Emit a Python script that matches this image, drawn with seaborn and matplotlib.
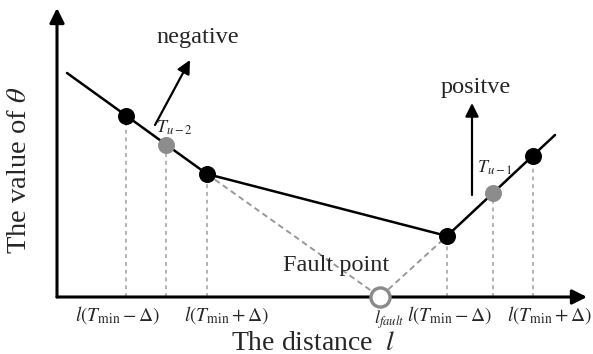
import matplotlib
matplotlib.use("Agg")
import matplotlib.pyplot as plt
import seaborn as sns
import pandas as pd

sns.set_theme(style="white")
plt.rcParams["font.family"] = ["Liberation Serif", "DejaVu Serif"]
plt.rcParams["mathtext.fontset"] = "stix"

# Sampled distances and theta values along the broken line
line_l = [0.20, 1.38, 2.18, 3.00, 7.80, 8.72, 9.52, 9.96]
line_theta = [4.48, 3.63, 3.05, 2.46, 1.22, 2.08, 2.83, 3.24]
# Marked samples (black) and the neighbouring T_{u-2}/T_{u-1} samples (gray)
black_l = [1.38, 3.00, 7.80, 9.52]
black_theta = [3.63, 2.46, 1.22, 2.83]
gray_l = [2.18, 8.72]
gray_theta = [3.05, 2.08]
gray_labels = [r"$T_{u-2}$", r"$T_{u-1}$"]
fault_l = 6.46
tick_text = [r"$l(T_{\rm min}-\Delta)$", r"$l(T_{\rm min}+\Delta)$",
             r"$l(T_{\rm min}-\Delta)$", r"$l(T_{\rm min}+\Delta)$"]

fig = plt.figure(figsize=(5.93, 3.54), dpi=100)
ax = fig.add_axes([0, 0, 1, 1])
ax.set_xlim(-1.14, 10.72)
ax.set_ylim(-1.14, 5.94)
ax.axis("off")

# Coordinate axes with arrow heads
ax.annotate("", xy=(10.6, 0), xytext=(0, 0),
            arrowprops=dict(arrowstyle="-|>", lw=2.2, color="black",
                            mutation_scale=22, shrinkA=0, shrinkB=0))
ax.annotate("", xy=(0, 5.78), xytext=(0, 0),
            arrowprops=dict(arrowstyle="-|>", lw=2.2, color="black",
                            mutation_scale=22, shrinkA=0, shrinkB=0))

# Projections of the samples onto the distance axis
all_l = sorted(black_l + gray_l)
all_theta = [dict(zip(black_l + gray_l, black_theta + gray_theta))[v] for v in all_l]
ax.vlines(all_l, 0, all_theta, colors="#b3b3b3", lw=1.4, linestyles=(0, (2, 2)), zorder=1)

# Extrapolated lines down to the fault point
ax.plot([black_l[1], fault_l, black_l[2]], [black_theta[1], 0, black_theta[2]],
        color="#999999", lw=1.4, ls=(0, (3, 2)), zorder=1)

df = pd.DataFrame({"l": line_l, "theta": line_theta})
sns.lineplot(data=df, x="l", y="theta", sort=False, color="black", lw=1.8, ax=ax, zorder=2)
sns.scatterplot(x=black_l, y=black_theta, color="black", s=150, edgecolor="black",
                linewidth=0, ax=ax, zorder=3)
sns.scatterplot(x=gray_l, y=gray_theta, color="#8c8c8c", s=150, edgecolor="#8c8c8c",
                linewidth=0, ax=ax, zorder=3)
ax.scatter([fault_l], [0], s=190, facecolor="white", edgecolor="#8a8a8a",
           linewidth=2.4, zorder=4)
ax.set_xlabel("")
ax.set_ylabel("")

# Direction arrows
ax.annotate("", xy=(2.66, 4.74), xytext=(1.96, 3.44),
            arrowprops=dict(arrowstyle="-|>", lw=1.6, color="black",
                            mutation_scale=20, shrinkA=0, shrinkB=0))
ax.annotate("", xy=(8.30, 3.88), xytext=(8.30, 2.04),
            arrowprops=dict(arrowstyle="-|>", lw=1.6, color="black",
                            mutation_scale=20, shrinkA=0, shrinkB=0))
ax.text(2.82, 5.2, "negative", ha="center", va="center", fontsize=17.5)
ax.text(8.38, 4.2, "positve", ha="center", va="center", fontsize=17.5)

for (lx, ty), lab in zip([(1.98, 3.38), (8.40, 2.58)], gray_labels):
    ax.text(lx, ty, lab, ha="left", va="center", fontsize=13)

ax.text(5.58, 0.64, "Fault point", ha="center", va="center", fontsize=17.5)
ax.text(6.64, -0.46, r"$l_{fault}$", ha="center", va="center", fontsize=13)

for x, t in zip([1.22, 3.40, 7.86, 9.86], tick_text):
    ax.text(x, -0.36, t, ha="center", va="center", fontsize=14)

ax.text(5.12, -0.92, r"The distance  $l$", ha="center", va="center", fontsize=20)
ax.text(-0.74, 2.54, r"The value of $\theta$", ha="center", va="center",
        rotation=90, fontsize=20.5)

fig.savefig("out.png", dpi=100)
